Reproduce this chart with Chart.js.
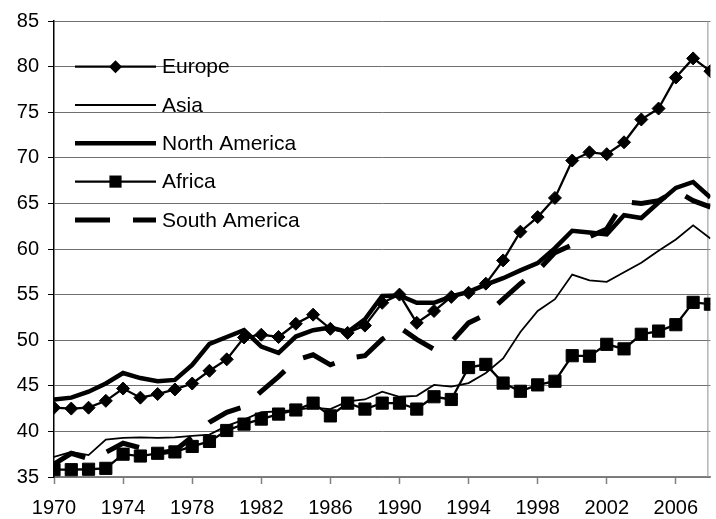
<!DOCTYPE html>
<html>
<head>
<meta charset="utf-8">
<script src="https://cdn.jsdelivr.net/npm/chart.js@4.4.1/dist/chart.umd.min.js"></script>
<style>
  html, body { margin: 0; padding: 0; background: #fff; overflow: hidden; }
  #wrap { width: 720px; height: 519px; }
</style>
</head>
<body>
<div id="wrap"><canvas id="chart" width="720" height="519"></canvas></div>
<script>
const years = [
  1970, 1971, 1972, 1973, 1974, 1975, 1976, 1977, 1978, 1979,
  1980, 1981, 1982, 1983, 1984, 1985, 1986, 1987, 1988, 1989,
  1990, 1991, 1992, 1993, 1994, 1995, 1996, 1997, 1998, 1999,
  2000, 2001, 2002, 2003, 2004, 2005, 2006, 2007, 2008
];
const tickYears = [1970, 1974, 1978, 1982, 1986, 1990, 1994, 1998, 2002, 2006];

const europe = [
  42.6, 42.5, 42.6, 43.35, 44.7, 43.7, 44.1, 44.6, 45.25, 46.65,
  47.9, 50.3, 50.6, 50.35, 51.8, 52.8, 51.25, 50.8, 51.6, 54.1,
  55.0, 51.9, 53.2, 54.75, 55.2, 56.2, 58.75, 61.9, 63.5, 65.6,
  69.7, 70.6, 70.4, 71.7, 74.2, 75.4, 78.8, 80.9, 79.5
];
const asia = [
  37.2, 37.75, 37.4, 39.1, 39.3, 39.35, 39.3, 39.35, 39.5, 39.65,
  40.6, 41.3, 42.1, 42.2, 42.35, 42.6, 42.45, 43.3, 43.5, 44.35,
  43.8, 43.9, 45.1, 44.9, 45.3, 46.4, 48.0, 50.9, 53.2, 54.5,
  57.2, 56.55, 56.4, 57.45, 58.5, 59.8, 61.05, 62.6, 61.15
];
const northAmerica = [
  43.5, 43.7, 44.35, 45.25, 46.4, 45.85, 45.5, 45.65, 47.3, 49.6,
  50.35, 51.1, 49.3, 48.6, 50.4, 51.1, 51.4, 50.9, 52.3, 54.85,
  54.9, 54.1, 54.1, 54.8, 55.3, 56.1, 56.8, 57.65, 58.45, 60.1,
  62.0, 61.8, 61.6, 63.7, 63.4, 65.1, 66.7, 67.35, 65.65
];
const africa = [
  35.8, 35.8, 35.85, 35.95, 37.5, 37.3, 37.6, 37.75, 38.35, 38.9,
  40.1, 40.8, 41.35, 41.9, 42.35, 43.1, 41.7, 43.1, 42.45, 43.1,
  43.1, 42.45, 43.8, 43.5, 47.0, 47.35, 45.3, 44.4, 45.1, 45.5,
  48.3, 48.25, 49.55, 49.05, 50.65, 51.0, 51.7, 54.15, 53.95
];
const southAmerica = [
  36.4, 37.6, 37.0, 37.7, 38.7, 38.2, 37.6, 37.9, 39.4, 41.0,
  42.1, 42.7, 44.4, 46.0, 47.8, 48.4, 47.3, 48.0, 48.3, 50.1,
  51.4, 50.1, 49.0, 49.8, 51.9, 52.8, 54.5, 56.2, 57.6, 59.6,
  60.45, 61.35, 62.2, 65.2, 65.0, 65.3, 66.4, 65.3, 64.6
];

const family = "'Liberation Sans', Arial, sans-serif";
const toPoints = vals => years.map((yr, i) => ({ x: yr, y: vals[i] }));

// legend sits inside the plot, top left, like the original
const insideLegend = {
  id: 'insideLegend',
  beforeDatasetsDraw(chart) {
    // thin grey frame on the right side of the plot
    const { ctx, chartArea } = chart;
    ctx.save();
    ctx.strokeStyle = '#909090';
    ctx.lineWidth = 1;
    ctx.beginPath();
    ctx.moveTo(chartArea.right - 2.5, chartArea.top);
    ctx.lineTo(chartArea.right - 2.5, chartArea.bottom);
    ctx.stroke();
    ctx.restore();
  },
  afterDraw(chart) {
    const ctx = chart.ctx;
    ctx.save();
    chart.data.datasets.forEach((ds, i) => {
      const y = 66.7 + i * 38.3;
      ctx.strokeStyle = '#000';
      ctx.lineWidth = ds.borderWidth;
      ctx.lineCap = 'butt';
      ctx.setLineDash(ds.borderDash || []);
      ctx.beginPath();
      ctx.moveTo(75, y);
      ctx.lineTo(156, y);
      ctx.stroke();
      ctx.setLineDash([]);

      ctx.fillStyle = '#000';
      const r = ds.pointRadius;
      if (ds.pointStyle === 'rectRot' && r > 0) {
        ctx.beginPath();
        ctx.moveTo(115.5 - r, y);
        ctx.lineTo(115.5, y - r);
        ctx.lineTo(115.5 + r, y);
        ctx.lineTo(115.5, y + r);
        ctx.closePath();
        ctx.fill();
      } else if (ds.pointStyle === 'rect' && r > 0) {
        const s = Math.SQRT1_2 * r;
        ctx.fillRect(115.5 - s, y - s, 2 * s, 2 * s);
      }

      ctx.font = '21px ' + family;
      ctx.textAlign = 'left';
      ctx.textBaseline = 'middle';
      ctx.fillText(ds.label, 162, y + 1);
    });
    ctx.restore();
  }
};

new Chart(document.getElementById('chart'), {
  type: 'line',
  data: {
    datasets: [
      {
        label: 'Europe', data: toPoints(europe),
        borderColor: '#000', borderWidth: 2.3,
        pointStyle: 'rectRot', pointRadius: 6.5,
        pointBackgroundColor: '#000', pointBorderColor: '#000', pointBorderWidth: 1
      },
      {
        label: 'Asia', data: toPoints(asia),
        borderColor: '#000', borderWidth: 1.8, pointRadius: 0
      },
      {
        label: 'North America', data: toPoints(northAmerica),
        borderColor: '#000', borderWidth: 4.5, pointRadius: 0
      },
      {
        label: 'Africa', data: toPoints(africa),
        borderColor: '#000', borderWidth: 2.3,
        pointStyle: 'rect', pointRadius: 8.6,
        pointBackgroundColor: '#000', pointBorderColor: '#000', pointBorderWidth: 1
      },
      {
        label: 'South America', data: toPoints(southAmerica),
        borderColor: '#000', borderWidth: 5, borderDash: [35, 23],
        borderCapStyle: 'butt', pointRadius: 0
      }
    ]
  },
  options: {
    responsive: false,
    animation: false,
    layout: { padding: { top: 14, right: 2, left: 0, bottom: 0 } },
    elements: { line: { tension: 0 } },
    plugins: {
      legend: { display: false },
      tooltip: { enabled: false }
    },
    scales: {
      x: {
        type: 'linear',
        min: 1970,
        max: 2008,
        afterBuildTicks: s => { s.ticks = tickYears.map(v => ({ value: v })); },
        afterFit: s => { s.height = 42; },
        grid: { drawOnChartArea: false, tickLength: 7, tickColor: '#808080', tickWidth: 1.5 },
        border: { color: '#808080', width: 1.5 },
        ticks: {
          callback: v => String(v),
          autoSkip: false, maxRotation: 0,
          color: '#000', padding: 12,
          font: { family: family, size: 20 }
        }
      },
      y: {
        min: 35,
        max: 85,
        afterFit: s => { s.width = 54; },
        grid: { color: '#707070', lineWidth: 1, tickLength: 6, tickColor: '#000' },
        border: { color: '#000', width: 1.5 },
        ticks: {
          stepSize: 5,
          color: '#000', padding: 9,
          font: { family: family, size: 20 }
        }
      }
    }
  },
  plugins: [insideLegend]
});
</script>
</body>
</html>
